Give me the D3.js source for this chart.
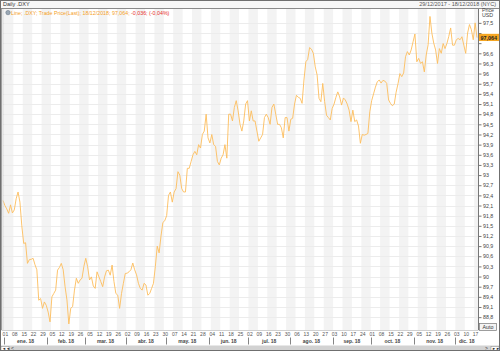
<!DOCTYPE html>
<html>
<head>
<meta charset="utf-8">
<script src="https://cdn.jsdelivr.net/npm/d3@7"></script>
<style>
  body { margin: 0; background: #fff; }
  svg { display: block; font-family: "Liberation Sans", Arial, sans-serif; }
</style>
</head>
<body>
<div id="chart-area"></div>
<script>
// Daily closes of .DXY, one array per month (weekdays only)
var dec17 = [92.25];
var jan = [92.1, 92.0, 91.87, 92.12, 91.88, 91.97, 92.3, 92.5, 92.2, 91.5, 90.98, 91.0, 90.39, 90.5, 90.51, 90.54, 90.35, 90.2, 89.3, 89.35, 89.06, 89.25, 89.15];
var feb = [88.95, 88.66, 89.4, 89.5, 89.6, 90.19, 90.27, 90.39, 90.2, 89.7, 89.31, 88.6, 89.06, 89.11, 89.6, 89.95, 89.8, 89.9, 89.95, 90.3];
var mar = [90.54, 90.29, 89.9, 89.99, 89.72, 89.65, 90.14, 89.99, 89.85, 89.7, 89.99, 90.17, 90.19, 90.04, 90.34, 89.85, 89.5, 89.45, 89.06, 89.5, 89.8, 90.09];
var apr = [90.1, 90.14, 90.2, 90.4, 90.2, 90.05, 89.8, 89.65, 89.6, 89.8, 89.75, 89.45, 89.5, 89.65, 89.8, 90.3, 90.9, 90.7, 91.2, 91.6, 91.65];
var may = [91.8, 92.4, 92.5, 92.2, 92.5, 92.6, 93.1, 93.0, 92.6, 92.5, 92.5, 93.2, 93.2, 93.4, 93.6, 93.7, 93.6, 93.9, 93.8, 94.2, 94.3, 94.8, 94.1];
var jun = [93.95, 94.2, 93.9, 93.85, 93.4, 93.3, 93.5, 93.6, 93.9, 93.5, 94.8, 94.8, 94.6, 95.0, 95.2, 94.9, 94.5, 94.3, 94.6, 95.1, 95.2];
var jul = [94.6, 94.9, 94.6, 94.6, 94.3, 94.0, 94.1, 94.2, 94.7, 94.8, 94.7, 94.5, 95.0, 95.1, 94.8, 94.5, 94.5, 94.4, 94.1, 94.7, 94.7, 94.3];
var aug = [94.65, 94.68, 95.1, 95.36, 95.3, 95.27, 95.12, 95.81, 96.35, 96.42, 96.77, 96.72, 96.6, 96.2, 95.96, 95.27, 95.17, 95.71, 95.17, 94.77, 94.7, 94.63, 94.97];
var sep = [95.1, 95.3, 95.46, 95.31, 95.07, 95.28, 95.22, 95.1, 94.92, 94.58, 94.92, 94.58, 94.63, 94.45, 93.94, 94.2, 94.18, 94.2, 94.23, 94.87];
var oct = [95.2, 95.4, 95.6, 95.76, 95.81, 95.72, 95.8, 95.78, 95.71, 95.22, 95.12, 95.05, 95.1, 95.45, 95.7, 96.0, 95.91, 96.02, 96.5, 96.65, 96.55, 96.7, 96.94];
var nov = [97.17, 96.35, 96.45, 96.3, 96.35, 96.05, 96.55, 96.85, 97.69, 97.2, 96.9, 96.7, 96.3, 96.74, 96.6, 96.89, 96.74, 96.89, 97.1, 97.35, 96.84, 96.84];
var dec = [97.0, 97.04, 97.0, 97.09, 96.84, 96.6, 97.2, 97.45, 97.3, 97.0, 97.5, 97.064];

var monthLabels = ["ene. 18", "feb. 18", "mar. 18", "abr. 18", "may. 18", "jun. 18",
  "jul. 18", "ago. 18", "sep. 18", "oct. 18", "nov. 18", "dic. 18"];
var priceTicks = [88.8, 89.1, 89.4, 89.7, 90, 90.3, 90.6, 90.9, 91.2, 91.5, 91.8, 92.1, 92.4, 92.7,
  93, 93.3, 93.6, 93.9, 94.2, 94.5, 94.8, 95.1, 95.4, 95.7, 96, 96.3, 96.6, 96.9, 97.2, 97.5];
var lastPrice = "97,064";
var legendMain = "Line; .DXY; Trade Price(Last); 18/12/2018; 97,064; ";
var legendChange = "-0,036; (-0,04%)";

// Chart setup
var W = 500, H = 351;
var plot = { left: 3, right: 478, top: 9, bottom: 330 };
var lineColor = "#fdbd5c";

var values = [].concat(dec17, jan, feb, mar, apr, may, jun, jul, aug, sep, oct, nov, dec);
var days = d3.timeDay.range(new Date(2017, 11, 29), new Date(2018, 11, 19))
  .filter(function (d) { return d.getDay() !== 0 && d.getDay() !== 6; });
var data = days.map(function (d, i) { return { date: d, i: i, v: values[i] }; });

var es = d3.formatLocale({ decimal: ",", thousands: ".", grouping: [3], currency: ["", "€"] });
var fmt = es.format("~f");

var x = d3.scaleLinear().domain([0, data.length - 1]).range([plot.left, plot.right - 1]);
var y = d3.scaleLinear().domain([88.42, 97.91]).range([plot.bottom, plot.top]);

var lastY = y(values[values.length - 1]);

var svg = d3.select("#chart-area").append("svg")
  .attr("width", W).attr("height", H);

// plot background
svg.append("rect")
  .attr("x", 0).attr("y", 0).attr("width", W).attr("height", H).attr("fill", "#fff");

// alternating week bands
var mondays = data.filter(function (d) { return d.date.getDay() === 1; });
svg.append("g").selectAll("rect")
  .data(mondays.filter(function (d) { return d3.timeMonday.count(new Date(2018, 0, 1), d.date) % 2 === 0; }))
  .enter().append("rect")
    .attr("x", function (d) { return x(d.i - 0.5); })
    .attr("width", function (d) { return Math.min(x(d.i + 4.5), plot.right) - x(d.i - 0.5); })
    .attr("y", plot.top)
    .attr("height", plot.bottom - plot.top)
    .attr("fill", "#f3f3f3");

// horizontal grid
svg.append("g").selectAll("line")
  .data(priceTicks)
  .enter().append("line")
    .attr("x1", plot.left).attr("x2", plot.right)
    .attr("y1", function (d) { return Math.round(y(d)) + 0.5; })
    .attr("y2", function (d) { return Math.round(y(d)) + 0.5; })
    .attr("stroke", "#ececec").attr("stroke-width", 1);

// price line
var line = d3.line()
  .x(function (d) { return x(d.i); })
  .y(function (d) { return y(d.v); });

svg.append("path")
  .datum(data)
  .attr("d", line)
  .attr("fill", "none")
  .attr("stroke", lineColor)
  .attr("stroke-width", 0.9)
  .attr("stroke-linejoin", "round");

// title bar
svg.append("rect")
  .attr("x", 0).attr("y", 0).attr("width", W).attr("height", 9).attr("fill", "#f7f7f7");
svg.append("line")
  .attr("x1", 0).attr("x2", W).attr("y1", 8.5).attr("y2", 8.5).attr("stroke", "#8a8a8a");
svg.append("text")
  .attr("x", 3).attr("y", 6.3).attr("font-size", "5.5px").attr("fill", "#333")
  .text("Daily .DXY");
svg.append("text")
  .attr("x", 496).attr("y", 6.3).attr("font-size", "5.5px").attr("fill", "#555")
  .attr("text-anchor", "end")
  .text("29/12/2017 - 18/12/2018 (NYC)");

// legend
svg.append("circle")
  .attr("cx", 8).attr("cy", 12.6).attr("r", 2.2)
  .attr("fill", "#9aa7b4").attr("stroke", "#5d6d7e").attr("stroke-width", 0.5);
var legend = svg.append("text")
  .attr("x", 11).attr("y", 14.5).attr("font-size", "5.3px");
legend.append("tspan").attr("fill", "#f5a11f").text(legendMain);
legend.append("tspan").attr("fill", "#e8302a").text(legendChange);

// left frame
svg.append("line")
  .attr("x1", 1.5).attr("x2", 1.5).attr("y1", 9).attr("y2", plot.bottom)
  .attr("stroke", "#a0a0a0");
svg.append("line")
  .attr("x1", 3).attr("x2", 3).attr("y1", 9).attr("y2", plot.bottom)
  .attr("stroke", "#cfcfcf");

// right price axis
var yAxis = d3.axisRight(y)
  .tickValues(priceTicks)
  .tickSize(3)
  .tickPadding(1.5)
  .tickFormat(fmt);

var yAxisGroup = svg.append("g")
  .attr("transform", "translate(" + (plot.right + 0.5) + ",0)")
  .call(yAxis);
yAxisGroup.select(".domain").attr("stroke", "#777").attr("d", "M0," + plot.top + "V" + plot.bottom);
yAxisGroup.selectAll(".tick line").attr("stroke", "#777");
yAxisGroup.selectAll(".tick text")
  .attr("font-size", "5.3px").attr("fill", "#444")
  .attr("font-family", "Liberation Sans, Arial, sans-serif");
// the last-price flag covers the tick label next to it
yAxisGroup.selectAll(".tick")
  .filter(function (d) { return Math.abs(y(d) - lastY) < 6; })
  .select("text").remove();

svg.append("text")
  .attr("x", 482).attr("y", 11.5).attr("font-size", "5.3px").attr("fill", "#444").text("Price");
svg.append("text")
  .attr("x", 482).attr("y", 17.3).attr("font-size", "5.3px").attr("fill", "#444").text("USD");

// last price flag
svg.append("rect")
  .attr("x", 479).attr("y", lastY - 3.8).attr("width", 20).attr("height", 7.2)
  .attr("fill", "#f5a623");
svg.append("text")
  .attr("x", 480.5).attr("y", lastY + 1.9).attr("font-size", "5.4px")
  .attr("font-weight", "bold").attr("fill", "#222").text(lastPrice);

// Auto button
svg.append("rect")
  .attr("x", 479.5).attr("y", plot.bottom - 6.5).attr("width", 17).attr("height", 7)
  .attr("fill", "#f4f4f4").attr("stroke", "#777").attr("stroke-width", 0.7);
svg.append("text")
  .attr("x", 488).attr("y", plot.bottom - 1.3).attr("font-size", "5.3px")
  .attr("text-anchor", "middle").attr("fill", "#333").text("Auto");

// bottom frame of plot
svg.append("line")
  .attr("x1", 1.5).attr("x2", plot.right + 0.5).attr("y1", plot.bottom + 0.5).attr("y2", plot.bottom + 0.5)
  .attr("stroke", "#cfcfcf");

// x axis: Mondays and months
var xAxis = d3.axisBottom(x)
  .tickValues(mondays.map(function (d) { return d.i; }))
  .tickSize(0)
  .tickPadding(2)
  .tickFormat(function (i) { return d3.timeFormat("%d")(data[i].date); });

var xAxisGroup = svg.append("g")
  .attr("transform", "translate(0," + plot.bottom + ")")
  .call(xAxis);
xAxisGroup.select(".domain").remove();
xAxisGroup.selectAll(".tick text")
  .attr("font-size", "5px").attr("fill", "#555")
  .attr("font-family", "Liberation Sans, Arial, sans-serif");

var monthStarts = data.filter(function (d, k) {
  return k > 0 && (k === 1 || d.date.getMonth() !== data[k - 1].date.getMonth());
});
svg.append("g").selectAll("line")
  .data(monthStarts)
  .enter().append("line")
    .attr("x1", function (d) { return Math.round(x(d.i - 0.5)) + 0.5; })
    .attr("x2", function (d) { return Math.round(x(d.i - 0.5)) + 0.5; })
    .attr("y1", 337.5).attr("y2", 344.5)
    .attr("stroke", "#666").attr("stroke-width", 0.8);

svg.append("g").selectAll("text")
  .data(monthStarts)
  .enter().append("text")
    .attr("x", function (d, k) {
      var end = k < monthStarts.length - 1 ? x(monthStarts[k + 1].i - 0.5) : plot.right;
      return (x(d.i - 0.5) + end) / 2;
    })
    .attr("y", 343.3)
    .attr("text-anchor", "middle")
    .attr("font-size", "5px")
    .attr("font-weight", "bold")
    .attr("fill", "#444")
    .text(function (d, k) { return monthLabels[k]; });

// scrollbar
svg.append("rect")
  .attr("x", 0).attr("y", 345.5).attr("width", W).attr("height", 6).attr("fill", "#d2d2d2");
svg.append("rect")
  .attr("x", 1).attr("y", 346.5).attr("width", 8).attr("height", 4).attr("fill", "#fff")
  .attr("stroke", "#888").attr("stroke-width", 0.5);
svg.append("text")
  .attr("x", 2).attr("y", 350).attr("font-size", "4px").attr("font-weight", "bold")
  .attr("fill", "#222").text("◄◄");
svg.append("text")
  .attr("x", 11).attr("y", 350.3).attr("font-size", "5px").attr("fill", "#333").text("<");
svg.append("text")
  .attr("x", 485).attr("y", 350.3).attr("font-size", "5px").attr("fill", "#333").text(">");
svg.append("rect")
  .attr("x", 491).attr("y", 346.5).attr("width", 8).attr("height", 4).attr("fill", "#fff")
  .attr("stroke", "#888").attr("stroke-width", 0.5);
svg.append("text")
  .attr("x", 492).attr("y", 350).attr("font-size", "4px").attr("font-weight", "bold")
  .attr("fill", "#222").text("►►");

// outer border
svg.append("rect")
  .attr("x", 0.5).attr("y", 0.5).attr("width", W - 1).attr("height", H - 1)
  .attr("fill", "none").attr("stroke", "#6f6f6f");
</script>
</body>
</html>
